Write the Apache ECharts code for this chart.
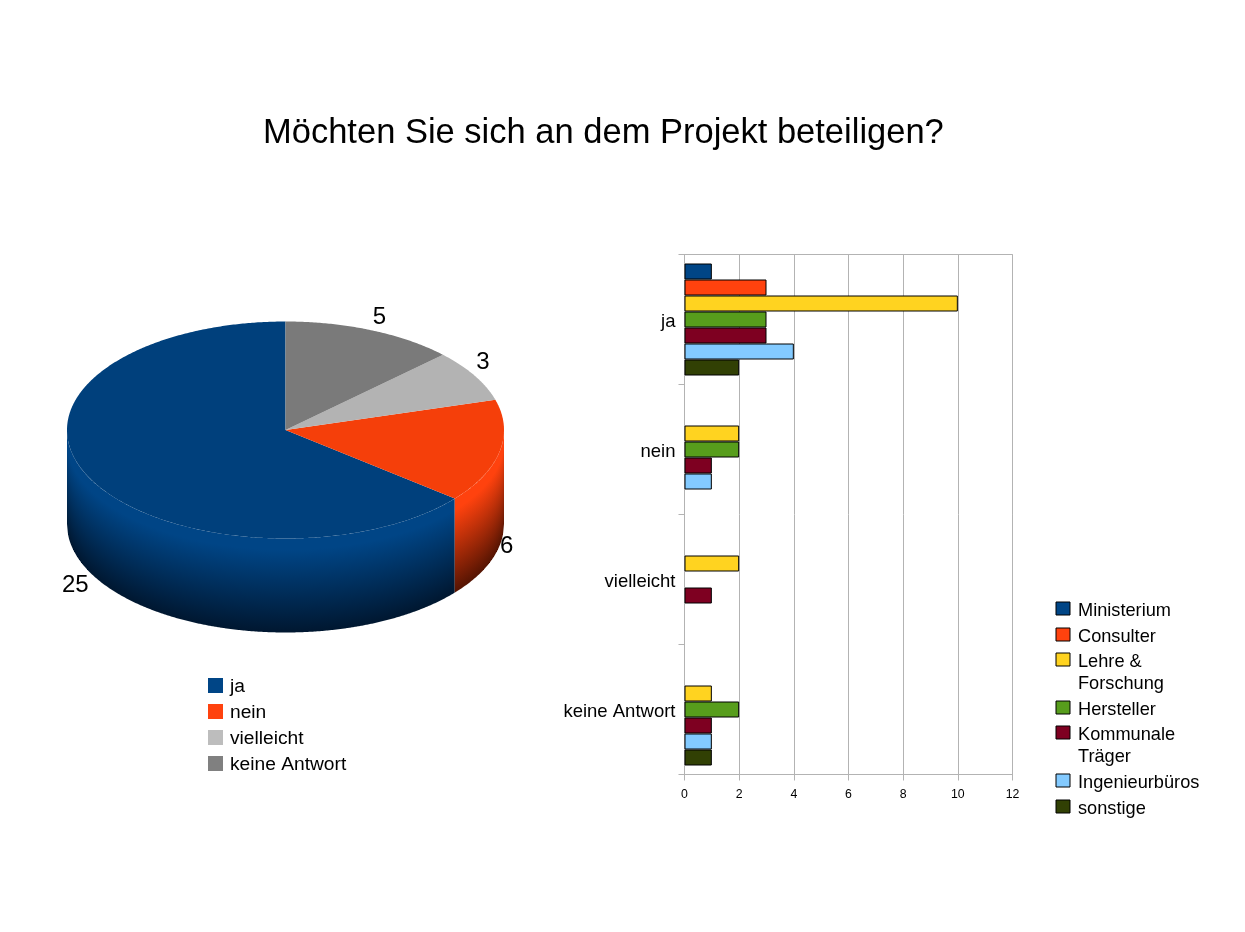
<!DOCTYPE html>
<html>
<head>
<meta charset="utf-8">
<style>html,body{margin:0;padding:0;background:#fff}#c{width:1245px;height:932px}</style>
<script src="https://cdn.jsdelivr.net/npm/echarts@6/dist/echarts.min.js"></script>
</head>
<body>
<div id="c"></div>
<script>
const titleText = 'Möchten Sie sich an dem Projekt beteiligen?';
const pieNames = ['ja', 'nein', 'vielleicht', 'keine Antwort'];
const pieValues = [25, 6, 3, 5];
const pieColors = ['#00407c', '#f53f0a', '#b3b3b3', '#7a7a7a'];
const pieWallTop = ['#004586', '#ff420e', '#b3b3b3', '#7f7f7f'];
const pieWallBottom = ['#001730', '#551402', '#3c3c3c', '#2a2a2a'];
const pieLegendColors = ['#004586', '#ff420e', '#bdbdbd', '#808080'];

const categories = ['ja', 'nein', 'vielleicht', 'keine Antwort'];
const seriesNames = ['Ministerium', 'Consulter', 'Lehre &\nForschung', 'Hersteller', 'Kommunale\nTräger', 'Ingenieurbüros', 'sonstige'];
const seriesColors = ['#004586', '#ff420e', '#ffd320', '#579d1c', '#7e0021', '#83caff', '#314004'];
const ministerium = [1, null, null, null];
const consulter = [3, null, null, null];
const lehre = [10, 2, 2, 1];
const hersteller = [3, 2, null, 2];
const kommunale = [3, 1, 1, 1];
const ingenieur = [4, 1, null, 1];
const sonstige = [2, null, null, 1];
const barValues = [ministerium, consulter, lehre, hersteller, kommunale, ingenieur, sonstige];
const xTicks = { min: 0, max: 12, interval: 2 };

const FONT = '"Liberation Sans", Arial, sans-serif';
const CX = 285.5, CY = 430, RX = 218.5, RY = 108.5, WALL = 94;
const total = pieValues.reduce((a, b) => a + b, 0);

function pt(deg, dy) {
  const r = deg * Math.PI / 180;
  return [CX + RX * Math.sin(r), CY - RY * Math.cos(r) + (dy || 0)];
}
function frontY(x) {
  const u = Math.min(1, Math.abs(x - CX) / RX);
  return CY + RY * Math.sqrt(1 - u * u);
}

function renderSlice(params, api) {
  const i = params.dataIndex;
  const val = api.value(0);
  let before = 0;
  for (let k = 0; k < i; k++) before += pieValues[k];
  const end = 360 - before / total * 360;      // clockwise angle from 12 o'clock
  const start = end - val / total * 360;
  const children = [];
  // side wall: one-pixel columns, each shaded from its upper to its lower edge
  const a0 = Math.max(start, 90), a1 = Math.min(end, 270);
  if (a0 < a1) {
    const stops = [
      { offset: 0, color: pieWallTop[i] },
      { offset: 0.12, color: pieWallTop[i] },
      { offset: 1, color: pieWallBottom[i] }
    ];
    const xL = pt(a1)[0], xR = pt(a0)[0];
    for (let x1 = xL; x1 < xR; x1 = Math.floor(x1) + 1) {
      const x2 = Math.min(Math.floor(x1) + 1, xR);
      const y1 = frontY(x1), y2 = frontY(x2), ym = frontY((x1 + x2) / 2);
      children.push({
        type: 'polygon',
        shape: { points: [[x1, y1], [x2, y2], [x2, y2 + WALL], [x1, y1 + WALL]] },
        style: { fill: { type: 'linear', x: x1, y: ym, x2: x1, y2: ym + WALL, global: true, colorStops: stops } },
        silent: true
      });
    }
  }
  // top face
  const pts = [[CX, CY]];
  for (let a = start; a < end; a += 0.5) pts.push(pt(a));
  pts.push(pt(end));
  children.push({ type: 'polygon', z2: 10, shape: { points: pts }, style: { fill: pieColors[i] }, silent: true });
  // value label
  const mid = (start + end) / 2;
  const cos = Math.cos(mid * Math.PI / 180);
  const p = pt(mid, (mid > 90 && mid < 270) ? WALL : 0);
  const upper = cos > 0.3, lower = cos < -0.3;
  children.push({
    type: 'text', z2: 20,
    style: {
      text: String(val), x: p[0] + (upper ? 1.5 : 0.5), y: upper ? p[1] - 1 : (lower ? p[1] + 3 : p[1] + 1),
      fill: '#000', fontFamily: FONT, fontSize: 24,
      align: Math.sin(mid * Math.PI / 180) > 0 ? 'left' : 'right',
      verticalAlign: upper ? 'bottom' : (lower ? 'top' : 'middle')
    }
  });
  return { type: 'group', children };
}

function pieLegend() {
  const out = [];
  pieNames.forEach((n, i) => {
    const y = 686 + i * 26;
    out.push({ type: 'rect', left: 208, top: y - 8, shape: { width: 15, height: 15 }, style: { fill: pieLegendColors[i] } });
    out.push({ type: 'text', left: 230, top: y - 9, style: { text: n, fontSize: 19.2, fontFamily: FONT, fill: '#000' } });
  });
  return out;
}

function barLegend() {
  const out = [];
  let y = 610.5;
  seriesNames.forEach((n, i) => {
    out.push({ type: 'rect', left: 1055.5, top: Math.round(y - 9.5) + 0.5, shape: { width: 14, height: 13 }, style: { fill: seriesColors[i], stroke: '#000', lineWidth: 1, lineJoin: 'miter' } });
    out.push({ type: 'text', left: 1078, top: y - 10.5, style: { text: n, fontSize: 18.2, lineHeight: 22, fontFamily: FONT, fill: '#000' } });
    y += n.split('\n').length * 22 + 3.6;
  });
  return out;
}

const chart = echarts.init(document.getElementById('c'), null, { renderer: 'canvas' });
chart.setOption({
  animation: false,
  backgroundColor: '#fff',
  textStyle: { fontFamily: FONT },
  title: {
    text: titleText, left: 258, top: 111,
    textStyle: { fontSize: 34.5, fontWeight: 'normal', color: '#000', fontFamily: FONT }
  },
  grid: { left: 684.5, top: 254.5, width: 328, height: 520, show: true, borderColor: '#b3b3b3', borderWidth: 1, containLabel: false },
  xAxis: {
    type: 'value', min: xTicks.min, max: xTicks.max, interval: xTicks.interval,
    axisLine: { show: true, lineStyle: { color: '#b3b3b3' } },
    axisTick: { show: true, length: 6, lineStyle: { color: '#b3b3b3' } },
    splitLine: { show: true, lineStyle: { color: '#b3b3b3', width: 1 } },
    axisLabel: { fontSize: 12.3, color: '#000', margin: 14, fontFamily: FONT }
  },
  yAxis: {
    type: 'category', inverse: true, data: categories,
    axisLine: { show: true, lineStyle: { color: '#b3b3b3' } },
    axisTick: { show: true, length: 6, alignWithLabel: false, lineStyle: { color: '#b3b3b3' } },
    axisLabel: {
      color: '#000', margin: 9, fontFamily: FONT, fontSize: 18.5,
      formatter: '{a|{value}}',
      rich: { a: { fontSize: 18.5, fontFamily: FONT, color: '#000', padding: [4, 0, 0, 0] } }
    }
  },
  graphic: { elements: pieLegend().concat(barLegend()) },
  series: [
    {
      type: 'custom', coordinateSystem: 'none', name: 'Beteiligung', silent: true,
      renderItem: renderSlice, data: pieValues.map(v => [v]), clip: false, z: 3
    }
  ].concat(barValues.map((vals, i) => ({
    type: 'bar', name: seriesNames[i].replace('\n', ' '), data: vals,
    barWidth: 16, barGap: 0,
    itemStyle: { color: seriesColors[i], borderColor: '#000', borderWidth: 1, borderJoin: 'miter' }
  })))
});
</script>
</body>
</html>
